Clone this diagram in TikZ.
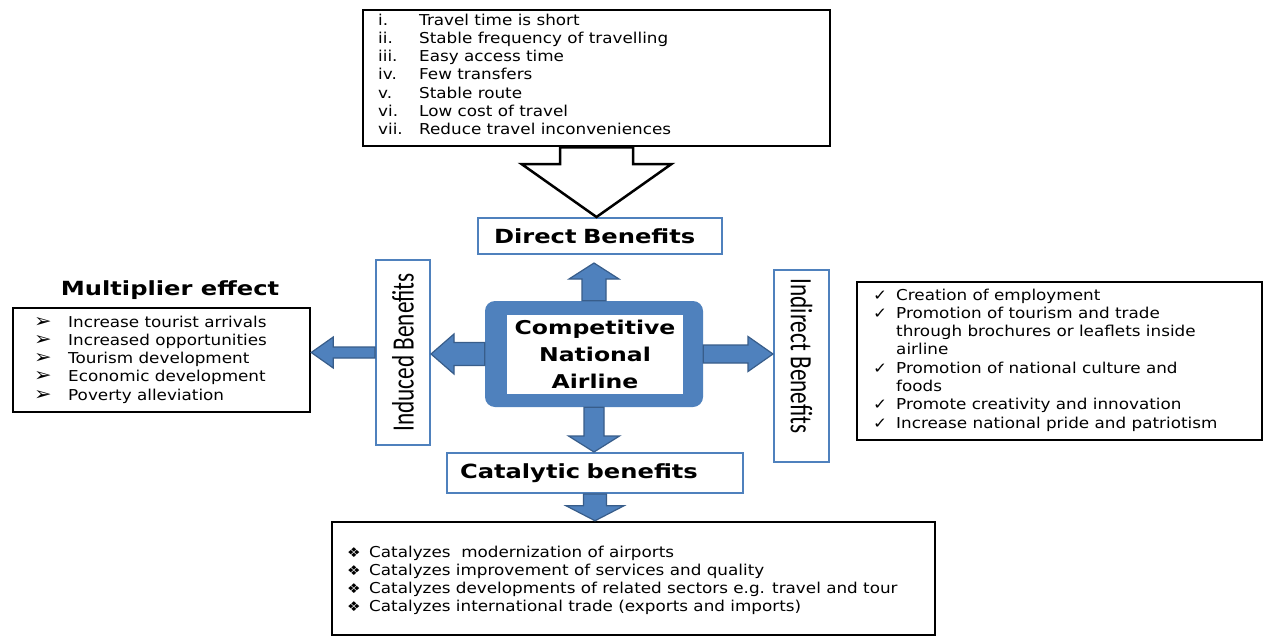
\documentclass[tikz,border=0pt]{standalone}
\usepackage{fontspec}
\setmainfont{DejaVu Sans}[FakeStretch=1.12]
\newfontfamily\titlefont{DejaVu Sans Bold}[FakeStretch=1.24]
\newfontfamily\sidefont{Carlito}[FakeStretch=0.75]
\usetikzlibrary{calc}

\definecolor{officeblue}{HTML}{4F81BD}
\definecolor{edgeblue}{HTML}{385D8A}

\newcommand\mbul{\scalebox{1.25}{➢}}
\newcommand\cbul{✓}
\newcommand\dbul{\scalebox{0.9}{❖}}

% block arrow: [style]{shaft}{head}{head length}{from}{to}
\newcommand\fatarrow[6][bluearrow]{%
  \path[#1] let \p1=(#5), \p2=(#6),
      \n1={atan2(\y2-\y1,\x2-\x1)}, \n2={veclen(\x2-\x1,\y2-\y1)} in
    ($(\p1)+(\n1+90:#2/2)$) -- ++(\n1:\n2-#4) -- ++(\n1+90:#3/2-#2/2) -- (\p2)
    -- ($(\p1)+(\n1:\n2-#4)+(\n1-90:#3/2)$) -- ++(\n1+90:#3/2-#2/2)
    -- ($(\p1)+(\n1-90:#2/2)$) -- cycle;}

\tikzset{
  listbox/.style={draw=black, line width=2.5pt, fill=white, inner sep=0pt},
  labelbox/.style={draw=officeblue, line width=2pt, fill=white, inner ysep=0pt,
    font=\titlefont\fontsize{19.5}{22}\selectfont},
  sidebox/.style={draw=officeblue, line width=2pt, fill=white, inner sep=0pt,
    font=\sidefont\fontsize{31}{31}\selectfont},
  bluearrow/.style={draw=edgeblue, fill=officeblue, line width=1.2pt},
  hollowarrow/.style={draw=black, fill=white, line width=2.5pt},
  itemtext/.style={anchor=base west, inner sep=0pt, font=\fontsize{15}{18.3}\selectfont},
}

\begin{document}
\begin{tikzpicture}[x=1pt,y=-1pt]
  \useasboundingbox[fill=white] (0,0) rectangle (1264,637);

  % boxes
  \node[listbox, minimum width=467pt, minimum height=136pt] (reasons) at (596.5,78) {};
  \node[labelbox, minimum height=36pt, text width=212pt, inner xsep=16pt, align=left]
    (direct) at (600,236) {Direct Benefits};
  \node[fill=officeblue, rounded corners=10pt, minimum width=218pt, minimum height=106pt]
    (airline) at (594,354) {};
  \node[fill=white, minimum width=176pt, minimum height=79pt, align=center,
    font=\titlefont\fontsize{19}{27}\selectfont]
    (airlinetext) at (595,354.5) {Competitive\\National\\Airline};
  \node[sidebox, rotate=90, minimum width=185pt, minimum height=54pt]
    (induced) at (403,352.5) {Induced Benefits};
  \node[sidebox, rotate=-90, minimum width=192pt, minimum height=55pt]
    (indirect) at (801.5,366) {Indirect Benefits\hspace*{20pt}};
  \node[listbox, minimum width=297pt, minimum height=104pt] (multiplier) at (161.5,360) {};
  \node[font=\titlefont\fontsize{19.5}{22}\selectfont] (multtitle) at (170,290) {Multiplier effect};
  \node[listbox, minimum width=405pt, minimum height=158pt] (benefits) at (1059.5,361) {};
  \node[labelbox, minimum height=40pt, text width=270pt, inner xsep=13pt, align=left]
    (catalytic) at (595,473) {Catalytic benefits};
  \node[listbox, minimum width=603pt, minimum height=113pt] (catalysis) at (633.5,578.5) {};

  % lists
  \node[itemtext] (reasonlist) at (378,25) {\begin{tabular}[t]{@{}p{41pt}@{}l@{}}
    i.   & Travel time is short\\
    ii.  & Stable frequency of travelling\\
    iii. & Easy access time\\
    iv.  & Few transfers\\
    v.   & Stable route\\
    vi.  & Low cost of travel\\
    vii. & Reduce travel inconveniences
  \end{tabular}};
  \node[itemtext] (multlist) at (34,327) {\begin{tabular}[t]{@{}p{34pt}@{}l@{}}
    \mbul & Increase tourist arrivals\\
    \mbul & Increased opportunities\\
    \mbul & Tourism development\\
    \mbul & Economic development\\
    \mbul & Poverty alleviation
  \end{tabular}};
  \node[itemtext] (benefitlist) at (873,300) {\begin{tabular}[t]{@{}p{23pt}@{}l@{}}
    \cbul & Creation of employment\\
    \cbul & Promotion of tourism and trade\\
          & through brochures or leaflets inside\\
          & airline\\
    \cbul & Promotion of national culture and\\
          & foods\\
    \cbul & Promote creativity and innovation\\
    \cbul & Increase national pride and patriotism
  \end{tabular}};
  \node[itemtext] (catalysislist) at (347,557) {\begin{tabular}[t]{@{}p{22pt}@{}l@{}}
    \dbul & Catalyzes\ \ modernization of airports\\
    \dbul & Catalyzes improvement of services and quality\\
    \dbul & Catalyzes developments of related sectors e.g. travel and tour\\
    \dbul & Catalyzes international trade (exports and imports)
  \end{tabular}};

  % arrows
  \fatarrow[hollowarrow]{73pt}{150pt}{53pt}{reasons.south}{reasons.south |- direct.north}
  \fatarrow{24pt}{50pt}{16pt}{airline.north}{$(airline.north |- direct.south)+(0,8)$}
  \fatarrow{20pt}{51pt}{16pt}{airline.south}{airline.south |- catalytic.north}
  \fatarrow{23pt}{58pt}{15pt}{catalytic.south}{catalytic.south |- catalysis.north}
  \fatarrow{18pt}{35pt}{25pt}{airline.east}{airline.east -| indirect.south}
  \fatarrow{23pt}{40pt}{23pt}{airline.west}{airline.west -| induced.south}
  \fatarrow{11pt}{31pt}{22pt}{induced.north}{induced.north -| multiplier.east}
\end{tikzpicture}
\end{document}
